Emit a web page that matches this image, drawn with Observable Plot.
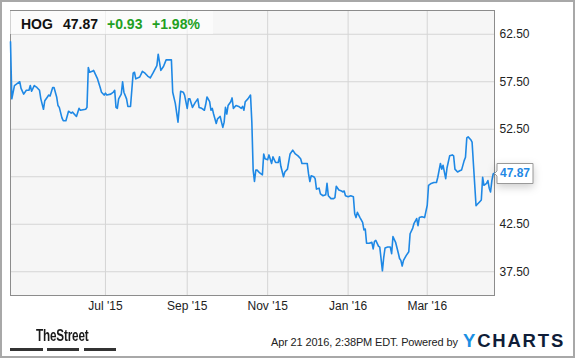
<!DOCTYPE html>
<html><head><meta charset="utf-8">
<script src="https://cdn.jsdelivr.net/npm/d3@7"></script>
<script src="https://cdn.jsdelivr.net/npm/@observablehq/plot@0.6"></script>
<style>
body{margin:0;background:#fff;}
#wrap{position:relative;width:575px;height:358px;overflow:hidden;font-family:"Liberation Sans",Arial,Helvetica,sans-serif;background:#fff;}
#chart{position:absolute;left:0;top:0;}
#border{position:absolute;left:0;top:0;width:575px;height:358px;box-sizing:border-box;border:2px solid #a8a8a8;pointer-events:none;}
#legendbox{position:absolute;left:10px;top:11px;width:203px;height:23px;background:rgba(255,255,255,0.6);}
.hd{position:absolute;top:16px;line-height:16px;font-size:14px;font-weight:bold;white-space:nowrap;}
.lasttip text{fill:#1e88e5;}
#street{position:absolute;left:36px;top:327px;line-height:17px;font-size:16px;font-weight:bold;font-family:"Liberation Sans",Arial,sans-serif;color:#1a1a1a;letter-spacing:-0.2px;transform:scaleX(0.73);transform-origin:0 0;white-space:nowrap;}
.bar{position:absolute;top:348px;height:3px;background:#333;}
#stamp{position:absolute;left:271px;top:336px;line-height:13px;font-size:11px;color:#222;letter-spacing:-0.15px;white-space:nowrap;}
#ych{position:absolute;left:463px;top:330px;line-height:21px;font-size:18.5px;font-weight:bold;letter-spacing:1.8px;color:#0f1d38;white-space:nowrap;}
#ych span{color:#1a8fe3;}
</style>
</head><body>
<div id="wrap">
  <div id="chart"></div>
  <div id="legendbox"></div>
  <span class="hd" id="h1" style="left:21px;color:#111"></span>
  <span class="hd" id="h2" style="left:63px;color:#111"></span>
  <span class="hd" id="h3" style="left:107px;color:#22a022"></span>
  <span class="hd" id="h4" style="left:152px;color:#22a022"></span>
  <div id="street">TheStreet</div>
  <div class="bar" style="left:10px;width:33px"></div>
  <div class="bar" style="left:47px;width:32px"></div>
  <div class="bar" style="left:84px;width:32px"></div>
  <div id="stamp">Apr 21 2016, 2:38PM EDT. Powered by</div>
  <div id="ych"><span>Y</span>CHARTS</div>
  <div id="border"></div>
</div>
<script>
const ticker = "HOG";
const lastPrice = "47.87";
const change = "+0.93";
const changePct = "+1.98%";

const dates = [
"2015-04-20","2015-04-21","2015-04-23","2015-04-25","2015-04-27","2015-04-28","2015-04-30",
"2015-05-02","2015-05-04","2015-05-05","2015-05-06","2015-05-08","2015-05-10","2015-05-12","2015-05-13","2015-05-15","2015-05-16","2015-05-18","2015-05-19","2015-05-20","2015-05-22","2015-05-23","2015-05-25","2015-05-26","2015-05-27","2015-05-29","2015-05-30",
"2015-06-01","2015-06-03","2015-06-05","2015-06-06","2015-06-09","2015-06-11","2015-06-12","2015-06-16","2015-06-17","2015-06-18","2015-06-19","2015-06-21","2015-06-22","2015-06-25","2015-06-27","2015-06-28","2015-06-30",
"2015-07-01","2015-07-02","2015-07-05","2015-07-07","2015-07-08","2015-07-09","2015-07-10","2015-07-11","2015-07-13","2015-07-14","2015-07-15","2015-07-17","2015-07-18","2015-07-20","2015-07-22","2015-07-23","2015-07-24","2015-07-27","2015-07-29","2015-07-31",
"2015-08-02","2015-08-04","2015-08-06","2015-08-09","2015-08-10","2015-08-12","2015-08-14","2015-08-16","2015-08-18","2015-08-20","2015-08-21","2015-08-23","2015-08-25","2015-08-27","2015-08-29","2015-08-30",
"2015-09-01","2015-09-02","2015-09-03","2015-09-05","2015-09-07","2015-09-09","2015-09-10","2015-09-12","2015-09-14","2015-09-15","2015-09-16","2015-09-18","2015-09-19","2015-09-20","2015-09-21","2015-09-23","2015-09-24","2015-09-26","2015-09-27","2015-09-28","2015-09-29","2015-09-30",
"2015-10-01","2015-10-02","2015-10-04","2015-10-05","2015-10-06","2015-10-08","2015-10-10","2015-10-12","2015-10-13","2015-10-14","2015-10-15","2015-10-17","2015-10-19","2015-10-20","2015-10-21","2015-10-22","2015-10-23","2015-10-24","2015-10-26","2015-10-28","2015-10-29","2015-10-30",
"2015-11-01","2015-11-02","2015-11-04","2015-11-05","2015-11-07","2015-11-09","2015-11-10","2015-11-11","2015-11-13","2015-11-14","2015-11-16","2015-11-18","2015-11-20","2015-11-22","2015-11-24","2015-11-26","2015-11-27","2015-11-29",
"2015-12-01","2015-12-02","2015-12-03","2015-12-04","2015-12-06","2015-12-07","2015-12-08","2015-12-10","2015-12-11","2015-12-13","2015-12-15","2015-12-16","2015-12-17","2015-12-19","2015-12-21","2015-12-22","2015-12-23","2015-12-25","2015-12-27","2015-12-28","2015-12-29","2015-12-30",
"2016-01-01","2016-01-03","2016-01-05","2016-01-06","2016-01-07","2016-01-08","2016-01-10","2016-01-12","2016-01-13","2016-01-14","2016-01-15","2016-01-17","2016-01-19","2016-01-20","2016-01-21","2016-01-22","2016-01-24","2016-01-25","2016-01-27","2016-01-28","2016-01-29","2016-01-31",
"2016-02-02","2016-02-03","2016-02-04","2016-02-06","2016-02-08","2016-02-09","2016-02-10","2016-02-11","2016-02-12","2016-02-14","2016-02-16","2016-02-17","2016-02-19","2016-02-20","2016-02-22","2016-02-23","2016-02-24","2016-02-26","2016-02-28",
"2016-03-01","2016-03-02","2016-03-04","2016-03-06","2016-03-08","2016-03-09","2016-03-11","2016-03-12","2016-03-13","2016-03-15","2016-03-16","2016-03-18","2016-03-20","2016-03-21","2016-03-22","2016-03-24","2016-03-26","2016-03-27","2016-03-29","2016-03-30","2016-03-31",
"2016-04-01","2016-04-03","2016-04-04","2016-04-05","2016-04-07","2016-04-08","2016-04-10","2016-04-11","2016-04-12","2016-04-13","2016-04-15","2016-04-16","2016-04-17","2016-04-18","2016-04-19","2016-04-20","2016-04-21"
];
const closes = [
61.7,55.7,57.1,57.3,57.5,56.8,56.2,
56.6,56.6,57.1,56.5,57.1,56.9,56.6,55.7,54.6,55.5,55.9,56.1,56.0,56.9,56.9,55.9,55.0,54.8,53.7,53.4,
53.4,54.4,54.2,54.3,53.85,54.7,54.5,54.6,54.8,59.0,58.5,58.6,58.7,57.8,56.9,56.4,56.1,
56.3,56.1,56.2,56.4,56.6,54.8,54.7,55.7,56.2,57.5,56.4,55.7,54.9,54.9,58.4,58.5,57.8,58.0,58.6,58.4,
58.1,57.9,58.4,59.2,60.4,58.7,59.1,59.8,59.8,59.8,56.4,55.2,53.25,56.5,56.4,56.1,
54.7,55.7,55.7,54.8,55.3,55.7,54.8,54.7,54.5,55.1,55.9,55.4,54.5,54.7,54.1,53.1,53.6,53.85,53.25,52.7,53.25,54.8,
54.1,55.0,55.4,55.8,54.7,55.0,54.9,54.7,54.9,54.5,55.4,55.7,56.1,53.25,48.2,47.0,48.2,48.2,47.9,47.7,49.9,49.4,
49.3,49.8,48.9,49.6,49.0,49.0,49.6,48.6,47.5,48.0,48.3,49.9,50.3,49.9,49.7,49.4,48.9,48.9,
48.9,47.8,47.0,47.6,47.5,47.3,46.2,46.3,45.7,45.5,45.6,46.8,45.5,45.2,45.2,45.3,46.5,46.1,46.0,45.9,46.0,45.5,
45.4,45.5,45.4,43.6,43.2,43.75,43.2,42.7,41.9,42.0,40.5,40.5,40.6,39.9,40.7,40.8,40.2,40.1,37.6,39.0,40.0,40.1,
40.1,39.4,41.2,40.6,39.5,38.9,38.7,38.1,38.7,39.2,39.6,41.5,42.1,42.6,43.1,42.35,43.2,43.3,43.2,
44.5,46.6,46.8,46.9,46.9,47.45,48.9,48.3,48.7,47.3,48.45,49.7,49.8,49.7,48.3,48.0,48.15,48.2,49.2,49.55,51.6,
51.7,51.4,51.15,48.9,44.45,44.6,44.9,45.05,47.45,46.6,46.8,47.1,46.3,45.9,47.1,47.8,47.87
];

const yTicks = [37.5, 42.5, 47.5, 52.5, 57.5, 62.5];
// 47.50 label is hidden behind the last-value box in the reference
const yTickLabels = [37.5, 42.5, 52.5, 57.5, 62.5];
const xTickDates = ["2015-07-01","2015-09-01","2015-11-01","2016-01-01","2016-03-01"];
const xTickLabels = ["Jul '15","Sep '15","Nov '15","Jan '16","Mar '16"];
const xDomain = ["2015-04-20","2016-04-21"];
const yDomain = [35, 65];

const data = dates.map((d, i) => ({date: new Date(d), close: closes[i]}));
const last = data[data.length - 1];
const xTicks = xTickDates.map(d => new Date(d));
const labelOf = new Map(xTicks.map((d, i) => [+d, xTickLabels[i]]));

document.getElementById("h1").textContent = ticker;
document.getElementById("h2").textContent = lastPrice;
document.getElementById("h3").textContent = change;
document.getElementById("h4").textContent = changePct;

const chart = Plot.plot({
  width: 575,
  height: 358,
  marginLeft: 10,
  marginRight: 81,
  marginTop: 10,
  marginBottom: 63,
  style: {fontFamily: '"Liberation Sans", Arial, sans-serif', fontSize: "12px", color: "#222", background: "transparent", overflow: "visible"},
  x: {type: "utc", domain: xDomain.map(d => new Date(d)), axis: null, label: null},
  y: {domain: yDomain, axis: null, label: null},
  marks: [
    Plot.frame({fill: "#f6f6f6"}),
    Plot.gridX(xTicks, {stroke: "#d5d5d5", strokeOpacity: 1}),
    Plot.gridY(yTicks, {stroke: "#d5d5d5", strokeOpacity: 1}),
    Plot.frame({stroke: "#8c8c8c"}),
    Plot.axisY(yTickLabels, {anchor: "right", label: null, tickSize: 0, tickPadding: 5, tickFormat: d3.format(".2f"), fontSize: 12, fill: "#222"}),
    Plot.axisX(xTicks, {anchor: "bottom", label: null, tickSize: 0, tickPadding: 6, tickFormat: d => labelOf.get(+d), fontSize: 12, fill: "#222"}),
    Plot.line(data, {x: "date", y: "close", stroke: "#1e88e5", strokeWidth: 1.6}),
    Plot.tip([last], {x: "date", y: "close", title: d => d.close.toFixed(2), anchor: "left", pointerSize: 5, textPadding: 3, fill: "#fff", stroke: "#999", fontSize: 12, fontWeight: "bold", className: "lasttip"})
  ]
});
document.getElementById("chart").appendChild(chart);
</script>
</body></html>
